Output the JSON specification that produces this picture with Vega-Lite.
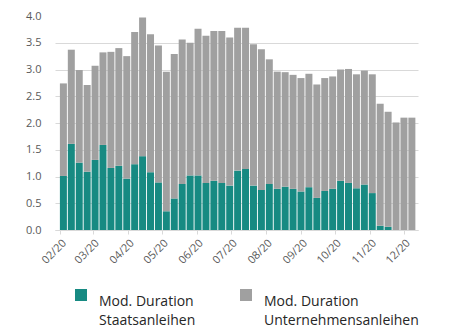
{
  "$schema": "https://vega.github.io/schema/vega-lite/v6.json",
  "width": 363,
  "height": 214,
  "padding": {"left": 25, "top": 10, "right": 5, "bottom": 5},
  "config": {
    "font": "Open Sans",
    "view": {"stroke": null},
    "axis": {"labelFont": "Open Sans", "labelColor": "#595959", "labelFontSize": 11}
  },
  "data": {
    "values": [
      {"date": "2020-02-04", "s": 1.01, "u": 1.73},
      {"date": "2020-02-11", "s": 1.61, "u": 1.76},
      {"date": "2020-02-18", "s": 1.26, "u": 1.73},
      {"date": "2020-02-25", "s": 1.09, "u": 1.62},
      {"date": "2020-03-03", "s": 1.31, "u": 1.76},
      {"date": "2020-03-10", "s": 1.59, "u": 1.73},
      {"date": "2020-03-17", "s": 1.16, "u": 2.17},
      {"date": "2020-03-24", "s": 1.20, "u": 2.20},
      {"date": "2020-03-31", "s": 0.96, "u": 2.29},
      {"date": "2020-04-07", "s": 1.23, "u": 2.47},
      {"date": "2020-04-14", "s": 1.38, "u": 2.59},
      {"date": "2020-04-21", "s": 1.08, "u": 2.58},
      {"date": "2020-04-28", "s": 0.89, "u": 2.56},
      {"date": "2020-05-05", "s": 0.35, "u": 2.61},
      {"date": "2020-05-12", "s": 0.59, "u": 2.70},
      {"date": "2020-05-19", "s": 0.86, "u": 2.70},
      {"date": "2020-05-26", "s": 1.02, "u": 2.48},
      {"date": "2020-06-02", "s": 1.02, "u": 2.74},
      {"date": "2020-06-09", "s": 0.88, "u": 2.75},
      {"date": "2020-06-16", "s": 0.92, "u": 2.80},
      {"date": "2020-06-23", "s": 0.88, "u": 2.84},
      {"date": "2020-06-30", "s": 0.83, "u": 2.77},
      {"date": "2020-07-07", "s": 1.11, "u": 2.67},
      {"date": "2020-07-14", "s": 1.14, "u": 2.64},
      {"date": "2020-07-21", "s": 0.83, "u": 2.64},
      {"date": "2020-07-28", "s": 0.75, "u": 2.63},
      {"date": "2020-08-04", "s": 0.86, "u": 2.33},
      {"date": "2020-08-11", "s": 0.77, "u": 2.19},
      {"date": "2020-08-18", "s": 0.81, "u": 2.14},
      {"date": "2020-08-25", "s": 0.77, "u": 2.13},
      {"date": "2020-09-01", "s": 0.72, "u": 2.12},
      {"date": "2020-09-08", "s": 0.80, "u": 2.12},
      {"date": "2020-09-15", "s": 0.60, "u": 2.12},
      {"date": "2020-09-22", "s": 0.73, "u": 2.11},
      {"date": "2020-09-29", "s": 0.77, "u": 2.10},
      {"date": "2020-10-06", "s": 0.92, "u": 2.08},
      {"date": "2020-10-13", "s": 0.88, "u": 2.13},
      {"date": "2020-10-20", "s": 0.78, "u": 2.13},
      {"date": "2020-10-27", "s": 0.85, "u": 2.13},
      {"date": "2020-11-03", "s": 0.69, "u": 2.22},
      {"date": "2020-11-10", "s": 0.08, "u": 2.28},
      {"date": "2020-11-17", "s": 0.06, "u": 2.15},
      {"date": "2020-11-24", "s": 0.00, "u": 2.01},
      {"date": "2020-12-01", "s": 0.00, "u": 2.10},
      {"date": "2020-12-08", "s": 0.00, "u": 2.10}
    ]
  },
  "transform": [
    {"fold": ["s", "u"], "as": ["key", "value"]},
    {"lookup": "key", "from": {"data": {"values": [
      {"key": "s", "series": "Staatsanleihen", "ord": 1},
      {"key": "u", "series": "Unternehmensanleihen", "ord": 2}
    ]}, "key": "key", "fields": ["series", "ord"]}}
  ],
  "mark": {"type": "bar", "width": 7},
  "encoding": {
    "x": {
      "field": "date",
      "type": "temporal",
      "scale": {
        "type": "utc",
        "domain": [
          {"year": 2020, "month": 2, "date": 1, "utc": true},
          {"year": 2020, "month": 12, "date": 9, "utc": true}
        ]
      },
      "axis": {
        "title": null,
        "format": "%m/%y",
        "values": [
          {"year": 2020, "month": 2, "date": 1, "utc": true},
          {"year": 2020, "month": 3, "date": 1, "utc": true},
          {"year": 2020, "month": 4, "date": 1, "utc": true},
          {"year": 2020, "month": 5, "date": 1, "utc": true},
          {"year": 2020, "month": 6, "date": 1, "utc": true},
          {"year": 2020, "month": 7, "date": 1, "utc": true},
          {"year": 2020, "month": 8, "date": 1, "utc": true},
          {"year": 2020, "month": 9, "date": 1, "utc": true},
          {"year": 2020, "month": 10, "date": 1, "utc": true},
          {"year": 2020, "month": 11, "date": 1, "utc": true},
          {"year": 2020, "month": 12, "date": 1, "utc": true}
        ],
        "labelAngle": -45,
        "grid": false,
        "domainColor": "#d9d9d9",
        "tickColor": "#d9d9d9",
        "tickSize": 4,
        "labelPadding": 3
      }
    },
    "y": {
      "field": "value",
      "type": "quantitative",
      "stack": "zero",
      "scale": {"domain": [0, 4]},
      "axis": {
        "title": null,
        "values": [0, 0.5, 1, 1.5, 2, 2.5, 3, 3.5, 4],
        "format": ".1f",
        "domain": false,
        "ticks": false,
        "labelPadding": 14,
        "gridColor": "#d9d9d9",
        "gridOpacity": {"condition": {"test": "datum.value >= 4", "value": 0}, "value": 1}
      }
    },
    "order": {"field": "ord", "sort": "ascending"},
    "color": {
      "field": "series",
      "type": "nominal",
      "scale": {"domain": ["Staatsanleihen", "Unternehmensanleihen"], "range": ["#178a82", "#a0a0a0"]},
      "legend": {
        "title": null,
        "orient": "none",
        "legendX": 19,
        "legendY": 272,
        "direction": "horizontal",
        "columns": 2,
        "columnPadding": 43,
        "symbolType": "square",
        "symbolSize": 144,
        "symbolStrokeWidth": 0,
        "labelOffset": 11,
        "labelFontSize": 14,
        "labelColor": "#262626",
        "labelLimit": 300,
        "labelBaseline": "top",
        "labelExpr": "['Mod. Duration', datum.label]",
        "encode": {"labels": {"update": {"lineHeight": {"value": 19}}}}
      }
    }
  }
}
